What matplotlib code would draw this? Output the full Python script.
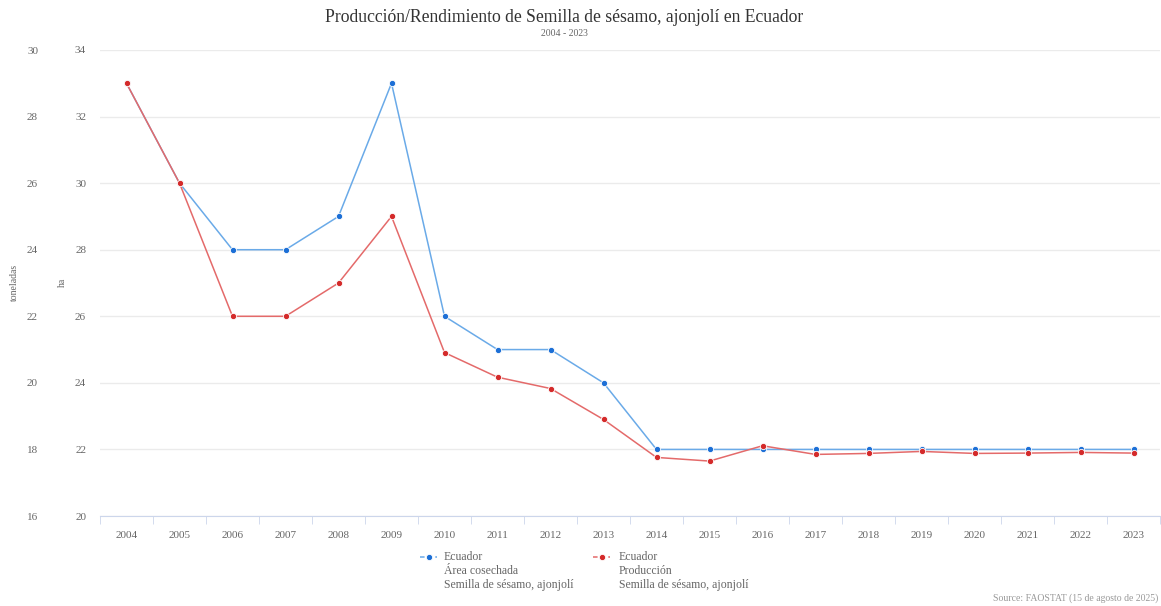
import numpy as np
import matplotlib.pyplot as plt
from matplotlib.lines import Line2D

years = [str(y) for y in range(2004, 2024)]
# Área cosechada (ha) -- inner scale
area_ha = [33, 30, 28, 28, 29, 33, 26, 25, 25, 24, 22, 22, 22, 22, 22, 22, 22, 22, 22, 22]
# Producción (toneladas) -- outer scale
prod_t = [29, 26, 22, 22, 23, 25, 20.91, 20.17, 19.83, 18.9, 17.76, 17.65, 18.11,
          17.85, 17.88, 17.94, 17.88, 17.89, 17.91, 17.89]
labels = ['Ecuador\nÁrea cosechada\nSemilla de sésamo, ajonjolí',
          'Ecuador\nProducción\nSemilla de sésamo, ajonjolí']

plt.rcParams['font.family'] = ['Liberation Serif', 'DejaVu Serif']
grey = '#666666'
blue_line, blue_dot = '#6aaae8', '#1c6fd6'
red_line, red_dot = '#e46a6a', '#d42a2a'

fig = plt.figure(figsize=(11.61, 6.06), dpi=100)
ax = fig.add_axes([100 / 1161, 1 - 516 / 606, 1060 / 1161, 466 / 606])
ax2 = ax.twinx()

x = np.arange(len(years))
ax.plot(x, area_ha, color=blue_line, lw=1.1, marker='o', ms=4.5,
        mfc=blue_dot, mec='white', mew=0.6)
ax2.plot(x, prod_t, color=red_line, lw=1.1, marker='o', ms=4.5,
         mfc=red_dot, mec='white', mew=0.6)

ax.set_ylim(20, 34)
ax2.set_ylim(16, 30)
ax.set_yticks(range(20, 35, 2))
ax2.set_yticks(range(16, 31, 2))
ax.set_xlim(-0.5, len(years) - 0.5)

ax.yaxis.grid(True, color='#ebebeb', lw=1)
ax.set_axisbelow(True)
for a in (ax, ax2):
    for s in ('top', 'right', 'left'):
        a.spines[s].set_visible(False)
ax2.spines['bottom'].set_visible(False)
ax.spines['bottom'].set_color('#ccd6eb')

ax.tick_params(axis='y', length=0, pad=10, labelsize=8, labelcolor=grey)
ax2.yaxis.set_ticks_position('left')
ax2.spines['left'].set_position(('outward', 34.6))
ax2.tick_params(axis='y', length=0, pad=10, labelsize=8, labelcolor=grey)

ax.set_xticks(x)
ax.set_xticklabels(years)
ax.set_xticks(np.arange(-0.5, len(years), 1), minor=True)
ax.tick_params(axis='x', which='major', length=0, pad=11, labelsize=8, labelcolor=grey)
ax.tick_params(axis='x', which='minor', length=6, color='#ccd6eb')

fig.text(14 / 1161, 1 - 282 / 606, 'toneladas', rotation=90, ha='center', va='center',
         fontsize=7, color=grey)
fig.text(62 / 1161, 1 - 282 / 606, 'ha', rotation=90, ha='center', va='center',
         fontsize=7, color=grey)

fig.text(564 / 1161, 1 - 17 / 606, 'Producción/Rendimiento de Semilla de sésamo, ajonjolí en Ecuador',
         ha='center', va='center', fontsize=12.7, color='#333333')
fig.text(564 / 1161, 1 - 34 / 606, '2004 - 2023', ha='center', va='center',
         fontsize=7, color=grey)

# legend (drawn by hand so the symbol sits on the first line)
for (hx, tx), lab, lc, dc in zip([(420, 444), (593, 619)], labels,
                                 [blue_line, red_line], [blue_dot, red_dot]):
    yl = 1 - 557 / 606
    fig.add_artist(Line2D([hx / 1161, (hx + 17) / 1161], [yl, yl], transform=fig.transFigure,
                          color=lc, lw=1.1, ls=(0, (3, 2))))
    fig.add_artist(Line2D([(hx + 8.5) / 1161], [yl], transform=fig.transFigure,
                          marker='o', ms=4.5, mfc=dc, mec='white', mew=0.6, ls='none'))
    fig.text(tx / 1161, 1 - 551 / 606, lab, ha='left', va='top', fontsize=8.5,
             color=grey, linespacing=1.2)

fig.text(1158 / 1161, 1 - 598 / 606, 'Source: FAOSTAT (15 de agosto de 2025)', ha='right',
         va='center', fontsize=7, color='#999999')

fig.savefig('out.png', dpi=100)
